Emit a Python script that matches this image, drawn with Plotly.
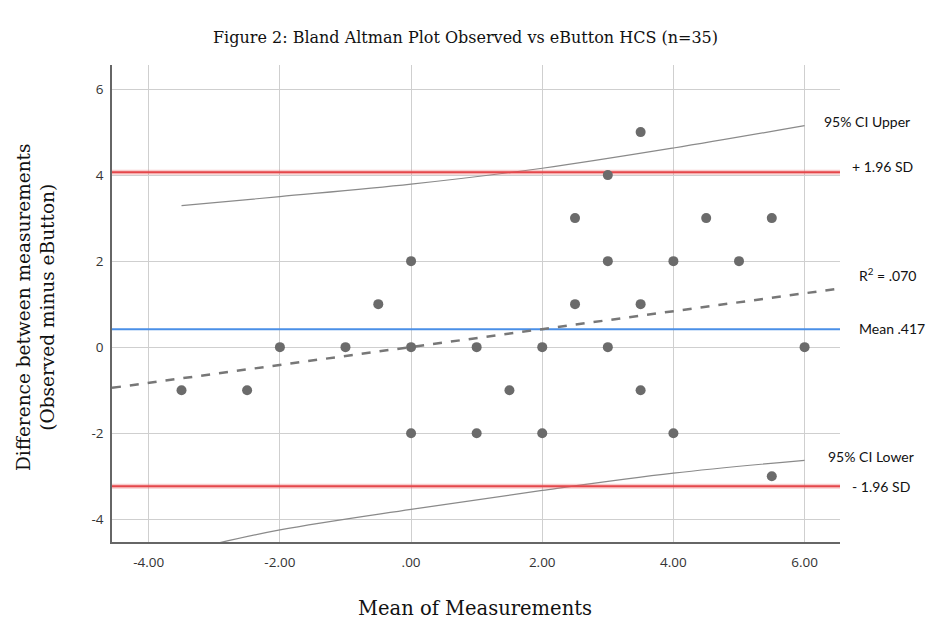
import plotly.graph_objects as go

# Data
mean_x = [-3.5, -2.5, -2.0, -1.0, -0.5, 0.0, 0.0, 0.0, 1.0, 1.0, 1.5, 2.0, 2.0,
          2.5, 2.5, 3.0, 3.0, 3.0, 3.5, 3.5, 3.5, 4.0, 4.0, 4.5, 5.0, 5.5, 5.5, 6.0]
diff_y = [-1, -1, 0, 0, 1, 2, 0, -2, 0, -2, -1, 0, -2,
          3, 1, 4, 2, 0, 5, 1, -1, 2, -2, 3, 2, 3, -3, 0]

mean_diff = 0.417
upper_loa = 4.067
lower_loa = -3.233

fit_x = [-4.56, 6.54]
fit_y = [-0.946, 1.365]

ci_x = [-3.5, -2.0, 0.0, 2.0, 4.0, 6.0]
ci_upper = [3.29, 3.50, 3.79, 4.16, 4.63, 5.15]
ci_lower = [-4.75, -4.25, -3.77, -3.33, -2.93, -2.63]

x_ticks = [-4, -2, 0, 2, 4, 6]
x_tick_labels = ["-4.00", "-2.00", ".00", "2.00", "4.00", "6.00"]
y_ticks = [-4, -2, 0, 2, 4, 6]
y_tick_labels = ["-4", "-2", "0", "2", "4", "6"]

x_range = [-4.56, 6.54]
y_range = [-4.53, 6.56]

# screen-space plot box
PL, PR, PT, PB = 112, 840, 65, 542
W, H = 930, 625


def px(x):
    return (x - PL) / (PR - PL)


def py(y):
    return (PB - y) / (PB - PT)


fig = go.Figure()

# CI curves
fig.add_trace(go.Scatter(x=ci_x, y=ci_upper, mode="lines", line=dict(color="#8a8a8a", width=1.2, shape="spline"), hoverinfo="skip"))
fig.add_trace(go.Scatter(x=ci_x, y=ci_lower, mode="lines", line=dict(color="#8a8a8a", width=1.2, shape="spline"), hoverinfo="skip"))

# Limits of agreement (red with soft halo)
for v in [upper_loa, lower_loa]:
    fig.add_trace(go.Scatter(x=x_range, y=[v, v], mode="lines", line=dict(color="rgba(235,110,110,0.35)", width=5), hoverinfo="skip"))
    fig.add_trace(go.Scatter(x=x_range, y=[v, v], mode="lines", line=dict(color="#e5474b", width=2), hoverinfo="skip"))

# Mean line
fig.add_trace(go.Scatter(x=x_range, y=[mean_diff, mean_diff], mode="lines", line=dict(color="#4a8fe7", width=2), hoverinfo="skip"))

# Regression dashed line
fig.add_trace(go.Scatter(x=fit_x, y=fit_y, mode="lines", line=dict(color="#777777", width=2.5, dash="dash"), hoverinfo="skip"))

# Points
fig.add_trace(go.Scatter(x=mean_x, y=diff_y, mode="markers", marker=dict(color="#6b6b6b", size=10), cliponaxis=False))

ann_font = dict(family="Lato, Open Sans, sans-serif", size=14, color="#111111")
annotations = [
    dict(text="95% CI Upper", x=822, y=121),
    dict(text="+ 1.96 SD", x=850, y=166),
    dict(text="R<sup>2</sup> = .070", x=857, y=274),
    dict(text="Mean .417", x=857, y=328),
    dict(text="95% CI Lower", x=826, y=456),
    dict(text="- 1.96 SD", x=850, y=486),
]
for a in annotations:
    fig.add_annotation(text=a["text"], xref="paper", yref="paper",
                       x=px(a["x"]), y=py(a["y"]),
                       xanchor="left", yanchor="middle", showarrow=False, font=ann_font)

serif = "DejaVu Serif, Liberation Serif, serif"
# Title
fig.add_annotation(text="Figure 2: Bland Altman Plot Observed vs eButton HCS (n=35)",
                   xref="paper", yref="paper", x=px(465), y=py(37),
                   xanchor="center", yanchor="middle", showarrow=False,
                   font=dict(family=serif, size=16, color="#111111"))
# X axis title
fig.add_annotation(text="Mean of Measurements",
                   xref="paper", yref="paper", x=px(475), y=py(608),
                   xanchor="center", yanchor="middle", showarrow=False,
                   font=dict(family=serif, size=19.5, color="#111111"))
# Y axis title
fig.add_annotation(text="Difference between measurements<br>(Observed minus eButton)",
                   xref="paper", yref="paper", x=px(35), y=py(307),
                   xanchor="center", yanchor="middle", showarrow=False, textangle=-90,
                   font=dict(family=serif, size=18.5, color="#111111"))

fig.update_layout(
    width=W, height=H,
    margin=dict(l=PL, r=W - PR, t=PT, b=H - PB),
    paper_bgcolor="white", plot_bgcolor="white",
    showlegend=False,
)
tickfont = dict(family="Open Sans, Liberation Sans, sans-serif", size=13.5, color="#333333")
fig.update_xaxes(range=x_range, tickvals=x_ticks, ticktext=x_tick_labels,
                 showgrid=True, gridcolor="#cfcfcf", gridwidth=1.3, zeroline=False,
                 showline=True, linecolor="#666666", linewidth=1.5,
                 tickfont=tickfont, ticks="", ticklabelstandoff=7)
fig.update_yaxes(range=y_range, tickvals=y_ticks, ticktext=y_tick_labels,
                 showgrid=True, gridcolor="#cfcfcf", gridwidth=1.3, zeroline=False,
                 showline=True, linecolor="#666666", linewidth=1.5,
                 tickfont=tickfont, ticks="", ticklabelstandoff=4)

fig.write_html("out.html", config={"displayModeBar": False},
               post_script="document.body.style.margin='0px';document.body.style.overflow='hidden';")
